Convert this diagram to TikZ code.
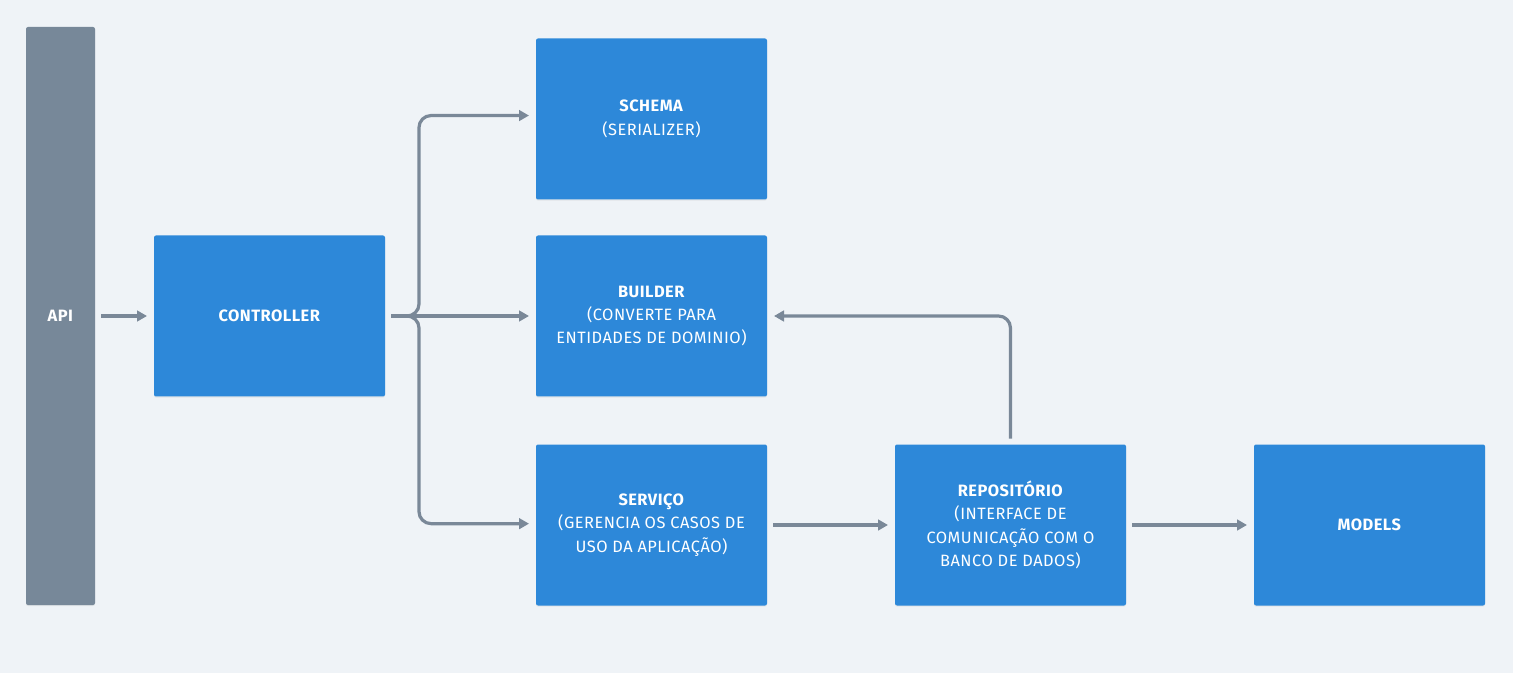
\documentclass[tikz,border=0pt]{standalone}
\usepackage{fontspec}
\setmainfont[LetterSpace=3]{Fira Sans}
\usetikzlibrary{arrows.meta,positioning,shadows}

\definecolor{bgcol}{HTML}{EFF3F7}
\definecolor{boxcol}{HTML}{2D88D9}
\definecolor{apicol}{HTML}{778899}
\definecolor{linecol}{HTML}{7A8898}

\begin{document}
\begin{tikzpicture}[
  x=0.75pt, y=-0.75pt,
  node distance=27pt and 96pt,
  box/.style={fill=boxcol, rounded corners=1.5pt, align=center, text=white,
    minimum width=173.25pt, minimum height=120.75pt, inner sep=2pt, outer sep=0pt,
    font=\fontsize{12.3}{17.6}\selectfont,
    drop shadow={opacity=0.12, shadow xshift=0pt, shadow yshift=-0.8pt}},
  side/.style={box, fill=apicol, minimum width=51.75pt, minimum height=433.5pt},
  arrow/.style={-{Triangle[length=7.5pt, width=8pt]}, line width=2.4pt, draw=linecol,
    shorten <=4.5pt, shorten >=5.25pt, rounded corners=9pt}
]
\fill[bgcol] (0,0) rectangle (1513,673);
\useasboundingbox (0,0) rectangle (1513,673);

\node[side] (api) at (60.5,316) {\textbf{API}};
\node[box, right=44.25pt of api] (controller) {\textbf{CONTROLLER}};
\node[box, right=113.25pt of controller] (builder) {\textbf{BUILDER}\\(CONVERTE PARA\\ENTIDADES DE DOMINIO)};
\node[box, above=of builder] (schema) {\textbf{SCHEMA}\\(SERIALIZER)};
\node[box, below=36pt of builder] (servico) {\textbf{SERVIÇO}\\(GERENCIA OS CASOS DE\\USO DA APLICAÇÃO)};
\node[box, right=of servico] (repo) {\textbf{REPOSITÓRIO}\\(INTERFACE DE\\COMUNICAÇÃO COM O\\BANCO DE DADOS)};
\node[box, right=of repo] (models) {\textbf{MODELS}};

\coordinate (fork) at (419,316);

\draw[arrow] (api) -- (controller);
\draw[arrow] (controller.east) -- (fork) |- ([yshift=2.6pt]schema.west);
\draw[arrow] (controller.east) -- (builder.west);
\draw[arrow] (controller.east) -- (fork) |- ([yshift=1pt]servico.west);
\draw[arrow] (servico) -- (repo);
\draw[arrow] (repo) -- (models);
\draw[arrow] (repo.north) |- (builder.east);
\end{tikzpicture}
\end{document}
